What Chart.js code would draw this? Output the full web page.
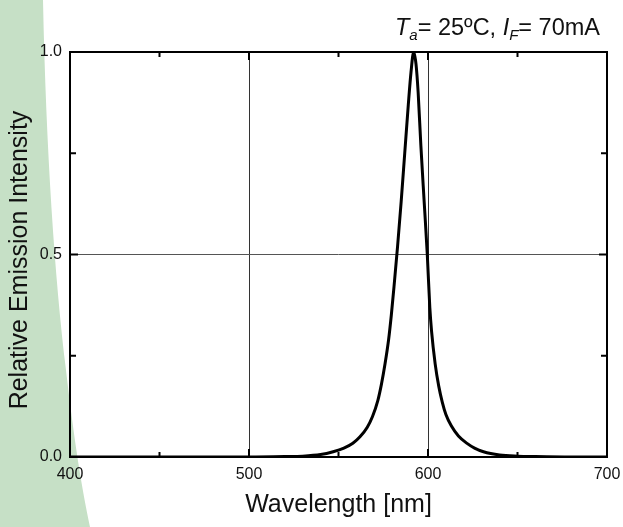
<!DOCTYPE html>
<html>
<head>
<meta charset="utf-8">
<script src="https://cdn.jsdelivr.net/npm/chart.js@4.4.0/dist/chart.umd.min.js"></script>
<style>
  html, body { margin: 0; padding: 0; background: #fff; }
  #wrap { width: 623px; height: 527px; position: relative; }
</style>
</head>
<body>
<div id="wrap"><canvas id="spectrum" width="623" height="527"></canvas></div>
<script>
// wavelength (nm) and relative intensity
const wavelength = [400, 450, 500, 520, 530, 540, 547, 553, 558, 562, 566, 569, 572, 574, 576, 578, 579.5, 581, 583, 585, 587, 589, 590.5, 592,
                    593.3, 594.5, 596, 598, 599.6, 601, 602, 604, 606, 608, 610, 613, 617, 622, 626, 631, 640, 650, 660, 680, 700];
const intensity  = [0, 0, 0, 0.001, 0.002, 0.006, 0.013, 0.022, 0.034, 0.05, 0.073, 0.1, 0.14, 0.18, 0.23, 0.29, 0.35, 0.42, 0.52, 0.63, 0.75, 0.87, 0.95, 1.0,
                    0.97, 0.9, 0.77, 0.62, 0.5, 0.37, 0.31, 0.23, 0.175, 0.135, 0.105, 0.077, 0.052, 0.033, 0.022, 0.013, 0.005, 0.002, 0.001, 0, 0];

const xTicks = [400, 500, 600, 700];
const yTicks = [0.0, 0.5, 1.0];
const xMinor = [450, 550, 650];
const yMinor = [0.25, 0.75];

const fontFamily = '"Liberation Sans", Arial, Helvetica, sans-serif';

// light green band on the left edge of the page
const bgShape = {
    id: 'bgShape',
    beforeDraw(chart) {
        const c = chart.ctx;
        c.save();
        c.fillStyle = '#c6e0c6';
        c.beginPath();
        c.moveTo(0, 0);
        c.lineTo(43, 0);
        c.bezierCurveTo(46, 150, 55, 280, 66, 370);
        c.bezierCurveTo(74, 440, 82, 490, 90, 527);
        c.lineTo(0, 527);
        c.closePath();
        c.fill();
        c.restore();
    }
};

// frame, inward tick marks, y title and the condition label
const frame = {
    id: 'frame',
    afterDraw(chart) {
        const c = chart.ctx;
        const a = chart.chartArea;
        const xs = chart.scales.x, ys = chart.scales.y;
        c.save();
        c.strokeStyle = '#000';
        c.lineWidth = 2;
        c.strokeRect(a.left, a.top, a.right - a.left, a.bottom - a.top);
        c.beginPath();
        xTicks.concat(xMinor).forEach(v => {
            const px = xs.getPixelForValue(v);
            const len = xMinor.includes(v) ? 5 : 8;
            c.moveTo(px, a.bottom); c.lineTo(px, a.bottom - len);
            c.moveTo(px, a.top); c.lineTo(px, a.top + len);
        });
        yTicks.concat(yMinor).forEach(v => {
            const py = ys.getPixelForValue(v);
            const len = yMinor.includes(v) ? 6 : 8;
            c.moveTo(a.left, py); c.lineTo(a.left + len, py);
            c.moveTo(a.right, py); c.lineTo(a.right - len, py);
        });
        c.stroke();

        // y axis title, sits a little below the axis centre
        c.fillStyle = '#111';
        c.font = '25px ' + fontFamily;
        c.textAlign = 'center';
        c.textBaseline = 'middle';
        c.save();
        c.translate(20, 260);
        c.rotate(-Math.PI / 2);
        c.fillText('Relative Emission Intensity', 0, 0);
        c.restore();

        // "Ta= 25ºC, IF= 70mA" with italic letters and subscripts
        const parts = [
            { t: 'T', style: 'italic ', size: 23.5, dy: 0 },
            { t: 'a', style: 'italic ', size: 15, dy: 5 },
            { t: '= 25ºC, ', style: '', size: 23.5, dy: 0 },
            { t: 'I', style: 'italic ', size: 23.5, dy: 0 },
            { t: 'F', style: 'italic ', size: 15, dy: 5 },
            { t: '= 70mA', style: '', size: 23.5, dy: 0 }
        ];
        c.textAlign = 'left';
        c.textBaseline = 'alphabetic';
        let total = 0;
        parts.forEach(p => {
            c.font = p.style + p.size + 'px ' + fontFamily;
            p.w = c.measureText(p.t).width;
            total += p.w;
        });
        let x = 600 - total;
        parts.forEach(p => {
            c.font = p.style + p.size + 'px ' + fontFamily;
            c.fillText(p.t, x, 35 + p.dy);
            x += p.w;
        });
        c.restore();
    }
};

new Chart(document.getElementById('spectrum'), {
    type: 'scatter',
    data: {
        datasets: [{
            data: wavelength.map((w, i) => ({ x: w, y: intensity[i] })),
            showLine: true,
            borderColor: '#000',
            borderWidth: 3,
            pointRadius: 0,
            cubicInterpolationMode: 'monotone'
        }]
    },
    options: {
        responsive: false,
        animation: false,
        layout: { padding: { left: 0, top: 52, right: 16, bottom: 0 } },
        plugins: {
            legend: { display: false },
            tooltip: { enabled: false }
        },
        scales: {
            x: {
                type: 'linear',
                min: 400,
                max: 700,
                afterFit(scale) {
                    scale.height = 70;
                    scale.paddingLeft = 0;
                    scale.paddingRight = 0;
                },
                afterBuildTicks(scale) { scale.ticks = xTicks.map(v => ({ value: v })); },
                border: { display: false },
                grid: { color: '#333', lineWidth: 1, drawTicks: false },
                ticks: {
                    padding: 8,
                    color: '#111',
                    font: { family: fontFamily, size: 16 },
                    maxRotation: 0
                },
                title: {
                    display: true,
                    text: 'Wavelength [nm]',
                    color: '#111',
                    font: { family: fontFamily, size: 25 },
                    padding: { top: 0, bottom: 7 }
                }
            },
            y: {
                type: 'linear',
                min: 0,
                max: 1,
                afterFit(scale) {
                    scale.width = 70;
                    scale.paddingTop = 0;
                    scale.paddingBottom = 0;
                },
                afterBuildTicks(scale) { scale.ticks = yTicks.map(v => ({ value: v })); },
                border: { display: false },
                grid: { color: '#555', lineWidth: 1, drawTicks: false },
                ticks: {
                    padding: 8,
                    color: '#111',
                    font: { family: fontFamily, size: 16 },
                    callback: v => v.toFixed(1)
                },
                title: { display: false }
            }
        }
    },
    plugins: [bgShape, frame]
});
</script>
</body>
</html>
